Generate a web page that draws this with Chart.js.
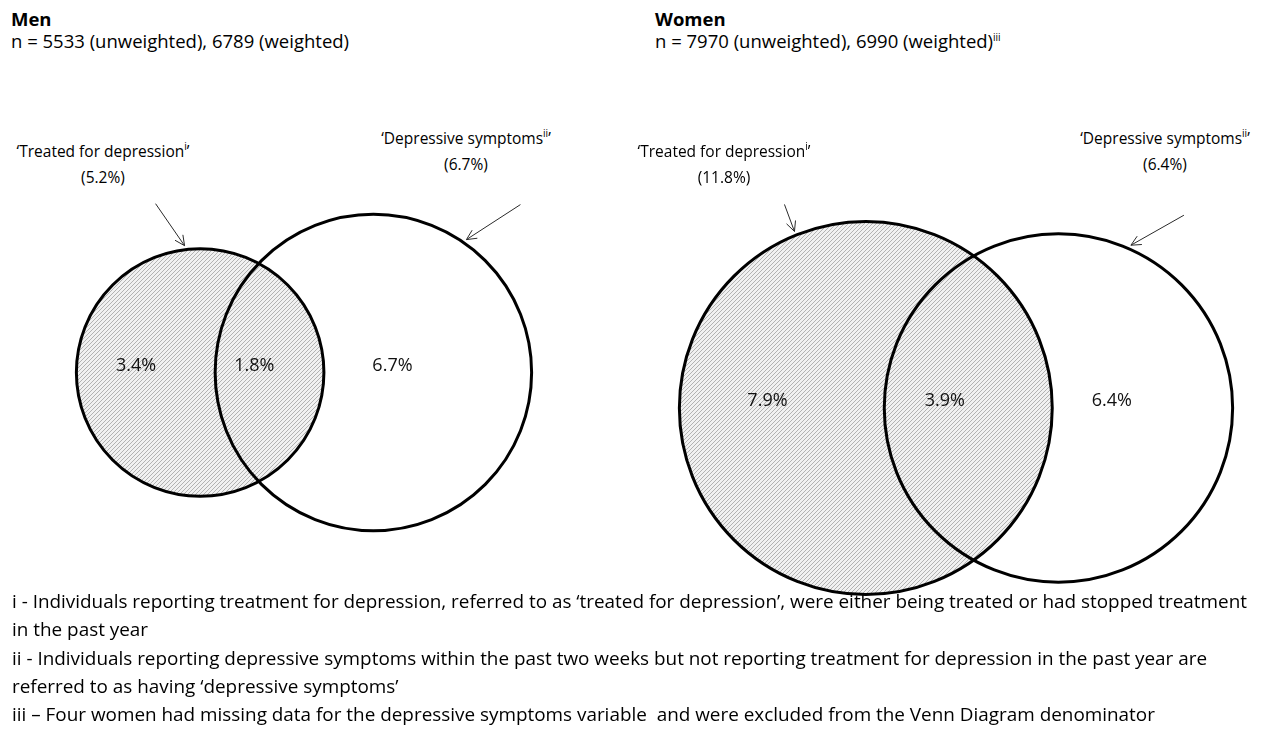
<!DOCTYPE html>
<html>
<head>
<meta charset="utf-8">
<script src="https://cdn.jsdelivr.net/npm/chart.js@4.4.1/dist/chart.umd.min.js"></script>
<style>
  body { margin: 0; background: #fff; }
  #page { position: relative; width: 1262px; height: 737px; overflow: hidden; font-family: "Open Sans", sans-serif; color: #000; }
  .head { position: absolute; font-size: 18.5px; line-height: 22px; white-space: nowrap; }
  .setlabel { position: absolute; width: 300px; margin-left: -150px; text-align: center; font-size: 15.5px; line-height: 26px; white-space: nowrap; }
  sup { font-size: 10px; vertical-align: 7px; line-height: 0; }
  #notes { position: absolute; left: 12px; top: 587px; font-size: 18.9px; line-height: 28.25px; white-space: pre; }
  .panel { position: absolute; }
</style>
</head>
<body>
<div id="page"></div>
<script>
// ---- data ----
const panelNames = ['Men', 'Women'];
const sampleSizes = ['n = 5533 (unweighted), 6789 (weighted)', 'n = 7970 (unweighted), 6990 (weighted)'];
const sampleNotes = ['', 'iii'];
const setNames = ['Treated for depression', 'Depressive symptoms'];
const setNotes = ['i', 'ii'];
// region shares in %: treated only, both, symptoms only
const menRegions = [3.4, 1.8, 6.7];
const womenRegions = [7.9, 3.9, 6.4];
// shares quoted next to the set names
const menSetShares = [5.2, 6.7];
const womenSetShares = [11.8, 6.4];
const footnotes = [
    'i - Individuals reporting treatment for depression, referred to as \u2018treated for depression\u2019, were either being treated or had stopped treatment',
    'in the past year',
    'ii - Individuals reporting depressive symptoms within the past two weeks but not reporting treatment for depression in the past year are',
    'referred to as having \u2018depressive symptoms\u2019',
    'iii \u2013 Four women had missing data for the depressive symptoms variable  and were excluded from the Venn Diagram denominator'
];

// ---- layout ----
const PX_PER_UNIT = 96.2;
const panelBoxes = [
    { left: 0, top: 150, width: 608, height: 445 },
    { left: 650, top: 190, width: 612, height: 436 }
];
const headSpots = [{ left: 11, top: 8 }, { left: 655, top: 8 }];
const labelSpots = [
    [{ x: 103, top: 138 }, { x: 466, top: 125 }],
    [{ x: 724, top: 138 }, { x: 1165, top: 125 }]
];
// arrow tip direction (deg clockwise from 12 o'clock) and tail offset
const arrowSpecs = [
    [{ angle: -7, dx: -29, dy: -42 }, { angle: 35, dx: 54, dy: -35 }],
    [{ angle: -22, dx: -10, dy: -27 }, { angle: 24, dx: 53, dy: -30 }]
];
const labelFractions = [0.43, 0.36, 0.33];

const page = document.getElementById('page');

function makeHatch() {
    const c = document.createElement('canvas');
    c.width = 4; c.height = 4;
    const g = c.getContext('2d');
    g.fillStyle = '#f1f1f1';
    g.fillRect(0, 0, 4, 4);
    g.strokeStyle = '#b2b2b2';
    g.lineWidth = 1;
    g.beginPath();
    g.moveTo(-1, 5); g.lineTo(5, -1);
    g.moveTo(-1, 1); g.lineTo(1, -1);
    g.moveTo(3, 5); g.lineTo(5, 3);
    g.stroke();
    return g.createPattern(c, 'repeat');
}

function lensArea(d, r1, r2) {
    if (d >= r1 + r2) return 0;
    if (d <= Math.abs(r1 - r2)) return Math.PI * Math.min(r1, r2) ** 2;
    const a1 = r1 * r1 * Math.acos((d * d + r1 * r1 - r2 * r2) / (2 * d * r1));
    const a2 = r2 * r2 * Math.acos((d * d + r2 * r2 - r1 * r1) / (2 * d * r2));
    const k = 0.5 * Math.sqrt((-d + r1 + r2) * (d + r1 - r2) * (d - r1 + r2) * (d + r1 + r2));
    return a1 + a2 - k;
}

function centreDistance(r1, r2, overlap) {
    let lo = Math.abs(r1 - r2), hi = r1 + r2;
    for (let i = 0; i < 60; ++i) {
        const mid = (lo + hi) / 2;
        if (lensArea(mid, r1, r2) > overlap) lo = mid; else hi = mid;
    }
    return (lo + hi) / 2;
}

function unitsToPx(chart, units) {
    const s = chart.scales.x;
    return s.getPixelForValue(units) - s.getPixelForValue(0);
}

const regionLabels = {
    id: 'regionLabels',
    afterDatasetsDraw(chart, args, opts) {
        const meta = chart.getDatasetMeta(0);
        const a = meta.data[0], b = meta.data[1];
        const ra = a.options.radius, rb = b.options.radius;
        const leftA = a.x - ra, rightA = a.x + ra, leftB = b.x - rb, rightB = b.x + rb;
        const xs = [
            leftA + labelFractions[0] * (leftB - leftA),
            leftB + labelFractions[1] * (rightA - leftB),
            rightA + labelFractions[2] * (rightB - rightA)
        ];
        const ctx = chart.ctx;
        ctx.save();
        ctx.font = '18px "Open Sans"';
        ctx.fillStyle = '#111';
        ctx.textAlign = 'center';
        ctx.textBaseline = 'middle';
        opts.values.forEach(function(v, i) {
            ctx.fillText(v.toFixed(1) + '%', xs[i], a.y - 7);
        });
        ctx.restore();
    }
};

const setArrows = {
    id: 'setArrows',
    afterDatasetsDraw(chart, args, opts) {
        const meta = chart.getDatasetMeta(0);
        const ctx = chart.ctx;
        ctx.save();
        ctx.strokeStyle = '#2a2a2a';
        ctx.lineWidth = 1;
        opts.specs.forEach(function(spec, i) {
            const el = meta.data[i];
            const r = el.options.radius + 4;
            const t = spec.angle * Math.PI / 180;
            const tipX = el.x + r * Math.sin(t), tipY = el.y - r * Math.cos(t);
            const tailX = tipX + spec.dx, tailY = tipY + spec.dy;
            const dir = Math.atan2(tailY - tipY, tailX - tipX);
            ctx.beginPath();
            ctx.moveTo(tailX, tailY);
            ctx.lineTo(tipX, tipY);
            [-0.45, 0.45].forEach(function(w) {
                ctx.moveTo(tipX + 11 * Math.cos(dir + w), tipY + 11 * Math.sin(dir + w));
                ctx.lineTo(tipX, tipY);
            });
            ctx.stroke();
        });
        ctx.restore();
    }
};

function drawPanel(p, regions, shares) {
    // headings
    const head = document.createElement('div');
    head.className = 'head';
    head.style.left = headSpots[p].left + 'px';
    head.style.top = headSpots[p].top + 'px';
    head.innerHTML = '<b>' + panelNames[p] + '</b><br>' + sampleSizes[p] +
        (sampleNotes[p] ? '<sup>' + sampleNotes[p] + '</sup>' : '');
    page.appendChild(head);

    // set labels
    for (let i = 0; i < 2; ++i) {
        const lab = document.createElement('div');
        lab.className = 'setlabel';
        lab.style.left = labelSpots[p][i].x + 'px';
        lab.style.top = labelSpots[p][i].top + 'px';
        lab.innerHTML = '\u2018' + setNames[i] + '<sup>' + setNotes[i] + '</sup>\u2019<br>(' + shares[i] + '%)';
        page.appendChild(lab);
    }

    // circles: area in % units, overlap solved from the shared region
    const totalA = regions[0] + regions[1];
    const totalB = regions[1] + regions[2];
    const rA = Math.sqrt(totalA / Math.PI);
    const rB = Math.sqrt(totalB / Math.PI);
    const d = centreDistance(rA, rB, regions[1]);
    const xA = (rA - rB - d) / 2;
    const radii = [rA, rB];

    const box = panelBoxes[p];
    const wrap = document.createElement('div');
    wrap.className = 'panel';
    wrap.style.left = box.left + 'px';
    wrap.style.top = box.top + 'px';
    const canvas = document.createElement('canvas');
    canvas.width = box.width;
    canvas.height = box.height;
    wrap.appendChild(canvas);
    page.appendChild(wrap);

    const hx = box.width / 2 / PX_PER_UNIT;
    const hy = box.height / 2 / PX_PER_UNIT;

    new Chart(canvas, {
        type: 'scatter',
        data: {
            datasets: [{
                data: [{ x: xA, y: 0 }, { x: xA + d, y: 0 }],
                showLine: false,
                pointStyle: 'circle',
                pointBackgroundColor: [makeHatch(), 'rgba(0,0,0,0)'],
                pointBorderColor: '#000',
                pointBorderWidth: 3,
                pointRadius: function(ctx) {
                    if (!ctx.chart.chartArea) return 0;
                    return unitsToPx(ctx.chart, radii[ctx.dataIndex]);
                },
                clip: false
            }]
        },
        options: {
            responsive: false,
            animation: false,
            events: [],
            layout: { padding: 0 },
            plugins: {
                legend: { display: false },
                tooltip: { enabled: false },
                regionLabels: { values: regions },
                setArrows: { specs: arrowSpecs[p] }
            },
            scales: {
                x: { type: 'linear', display: false, min: -hx, max: hx },
                y: { type: 'linear', display: false, min: -hy, max: hy }
            }
        },
        plugins: [regionLabels, setArrows]
    });
}

drawPanel(0, menRegions, menSetShares);
drawPanel(1, womenRegions, womenSetShares);

const notes = document.createElement('div');
notes.id = 'notes';
notes.textContent = footnotes.join('\n');
page.appendChild(notes);
</script>
</body>
</html>
